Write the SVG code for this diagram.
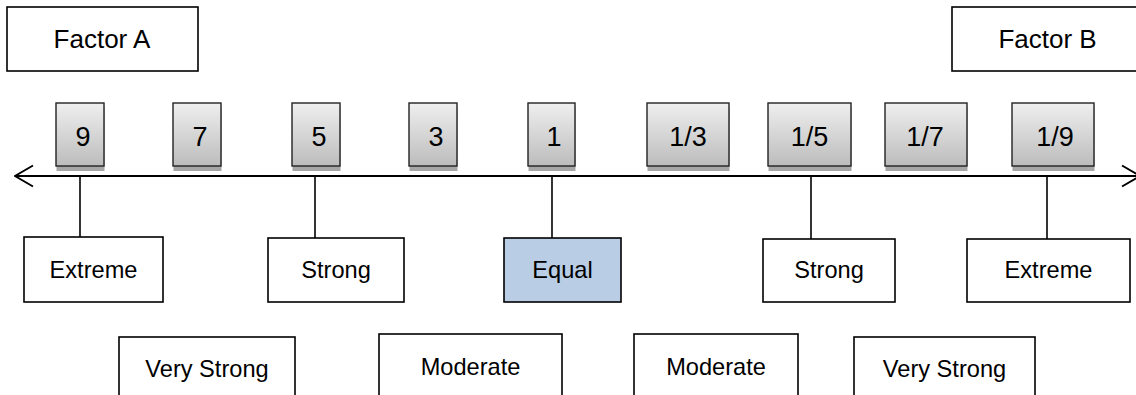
<svg xmlns="http://www.w3.org/2000/svg" width="1136" height="395" viewBox="0 0 1136 395">
<defs>
<linearGradient id="g" x1="0" y1="0" x2="0" y2="1">
<stop offset="0" stop-color="#efefef"/>
<stop offset="1" stop-color="#bcbcbc"/>
</linearGradient>
<marker id="ah" viewBox="0 0 20 24" refX="19" refY="12" markerWidth="20" markerHeight="24" markerUnits="userSpaceOnUse" orient="auto-start-reverse">
<path d="M1,1.5 L19,12 L1,22.5" fill="none" stroke="#000" stroke-width="2"/>
</marker>
</defs>
<style>
text{font-family:"Liberation Sans",Arial,sans-serif;fill:#000;text-anchor:middle}
.f{font-size:26px}
.n{font-size:27px}
.l{font-size:23.6px}
.box{fill:#fff;stroke:#000;stroke-width:1.6}
.eq{fill:#b9cde5;stroke:#000;stroke-width:1.6}
.nb{fill:url(#g);stroke:#222;stroke-width:1.4}
.sh{fill:#a6a6a6}
.c{stroke:#000;stroke-width:1.6;fill:none}
.ax{stroke:#000;stroke-width:2.2;fill:none}
</style>
<g id="connectors">
<line class="ax" x1="15" y1="176" x2="1140" y2="176" marker-start="url(#ah)" marker-end="url(#ah)"/>
<line class="c" x1="80" y1="176" x2="80" y2="237"/>
<line class="c" x1="315" y1="176" x2="315" y2="238"/>
<line class="c" x1="552" y1="176" x2="552" y2="238"/>
<line class="c" x1="811" y1="176" x2="811" y2="239"/>
<line class="c" x1="1047" y1="176" x2="1047" y2="239"/>
</g>
<g id="factorA"><rect class="box" x="7" y="7" width="191" height="64"/><text class="f" x="102" y="48">Factor A</text></g>
<g id="factorB"><rect class="box" x="952" y="7" width="191" height="64"/><text class="f" x="1047.5" y="48">Factor B</text></g>
<g id="n9"><rect class="sh" x="56.5" y="107" width="48" height="64"/><rect class="nb" x="56" y="103" width="48" height="63"/><text class="n" x="83" y="145.5">9</text></g>
<g id="n7"><rect class="sh" x="173.5" y="107" width="48" height="64"/><rect class="nb" x="173" y="103" width="48" height="63"/><text class="n" x="200" y="145.5">7</text></g>
<g id="n5"><rect class="sh" x="292.5" y="107" width="48" height="64"/><rect class="nb" x="292" y="103" width="48" height="63"/><text class="n" x="319" y="145.5">5</text></g>
<g id="n3"><rect class="sh" x="409.5" y="107" width="48" height="64"/><rect class="nb" x="409" y="103" width="48" height="63"/><text class="n" x="436" y="145.5">3</text></g>
<g id="n1"><rect class="sh" x="528.5" y="107" width="47" height="64"/><rect class="nb" x="528" y="103" width="47" height="63"/><text class="n" x="554" y="145.5">1</text></g>
<g id="n1_3"><rect class="sh" x="647.5" y="107" width="82" height="64"/><rect class="nb" x="647" y="103" width="82" height="63"/><text class="n" x="688" y="145.5">1/3</text></g>
<g id="n1_5"><rect class="sh" x="768.5" y="107" width="83" height="64"/><rect class="nb" x="768" y="103" width="83" height="63"/><text class="n" x="809.5" y="145.5">1/5</text></g>
<g id="n1_7"><rect class="sh" x="885.5" y="107" width="82" height="64"/><rect class="nb" x="885" y="103" width="82" height="63"/><text class="n" x="925" y="145.5">1/7</text></g>
<g id="n1_9"><rect class="sh" x="1012.5" y="107" width="82" height="64"/><rect class="nb" x="1012" y="103" width="82" height="63"/><text class="n" x="1055" y="145.5">1/9</text></g>
<g id="extremeA"><rect class="box" x="24" y="237" width="139" height="65"/><text class="l" x="93.5" y="278">Extreme</text></g>
<g id="strongA"><rect class="box" x="268" y="238" width="136" height="64"/><text class="l" x="336" y="278">Strong</text></g>
<g id="equal"><rect class="eq" x="504" y="238" width="117" height="64"/><text class="l" x="562.5" y="278">Equal</text></g>
<g id="strongB"><rect class="box" x="763" y="239" width="132" height="63"/><text class="l" x="829" y="278">Strong</text></g>
<g id="extremeB"><rect class="box" x="967" y="239" width="163" height="63"/><text class="l" x="1048.5" y="278">Extreme</text></g>
<g id="veryStrongA"><rect class="box" x="119" y="337" width="176" height="64"/><text class="l" x="207" y="377">Very Strong</text></g>
<g id="moderateA"><rect class="box" x="379" y="334" width="183" height="64"/><text class="l" x="470.5" y="375">Moderate</text></g>
<g id="moderateB"><rect class="box" x="634" y="334" width="164" height="64"/><text class="l" x="716" y="375">Moderate</text></g>
<g id="veryStrongB"><rect class="box" x="854" y="337" width="181" height="64"/><text class="l" x="944.5" y="377">Very Strong</text></g>
</svg>
